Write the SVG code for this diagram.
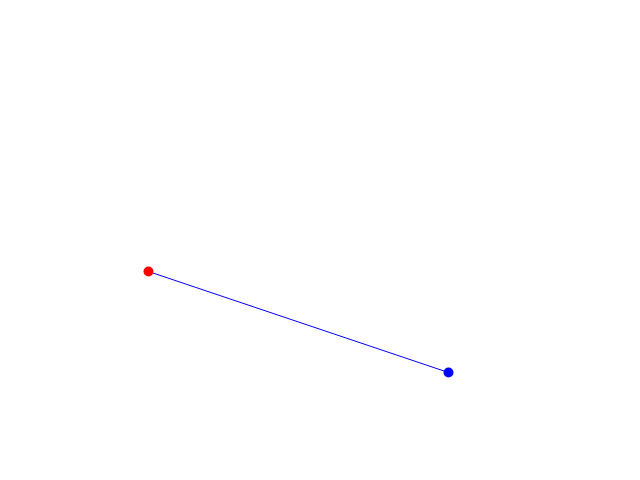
<svg xmlns="http://www.w3.org/2000/svg" width="640" height="480" viewBox="0 0 640 480">
<style>.edge{stroke:#0000ff;stroke-width:1;fill:none}</style>
<rect width="640" height="480" fill="#ffffff"/>
<g id="connectors"><line class="edge" x1="148.5" y1="271.5" x2="448.5" y2="372.5"/></g>
<g id="node-red"><circle cx="148.5" cy="271.5" r="5" fill="#ff0000"/></g>
<g id="node-blue"><circle cx="448.5" cy="372.5" r="5" fill="#0000ff"/></g>
</svg>
